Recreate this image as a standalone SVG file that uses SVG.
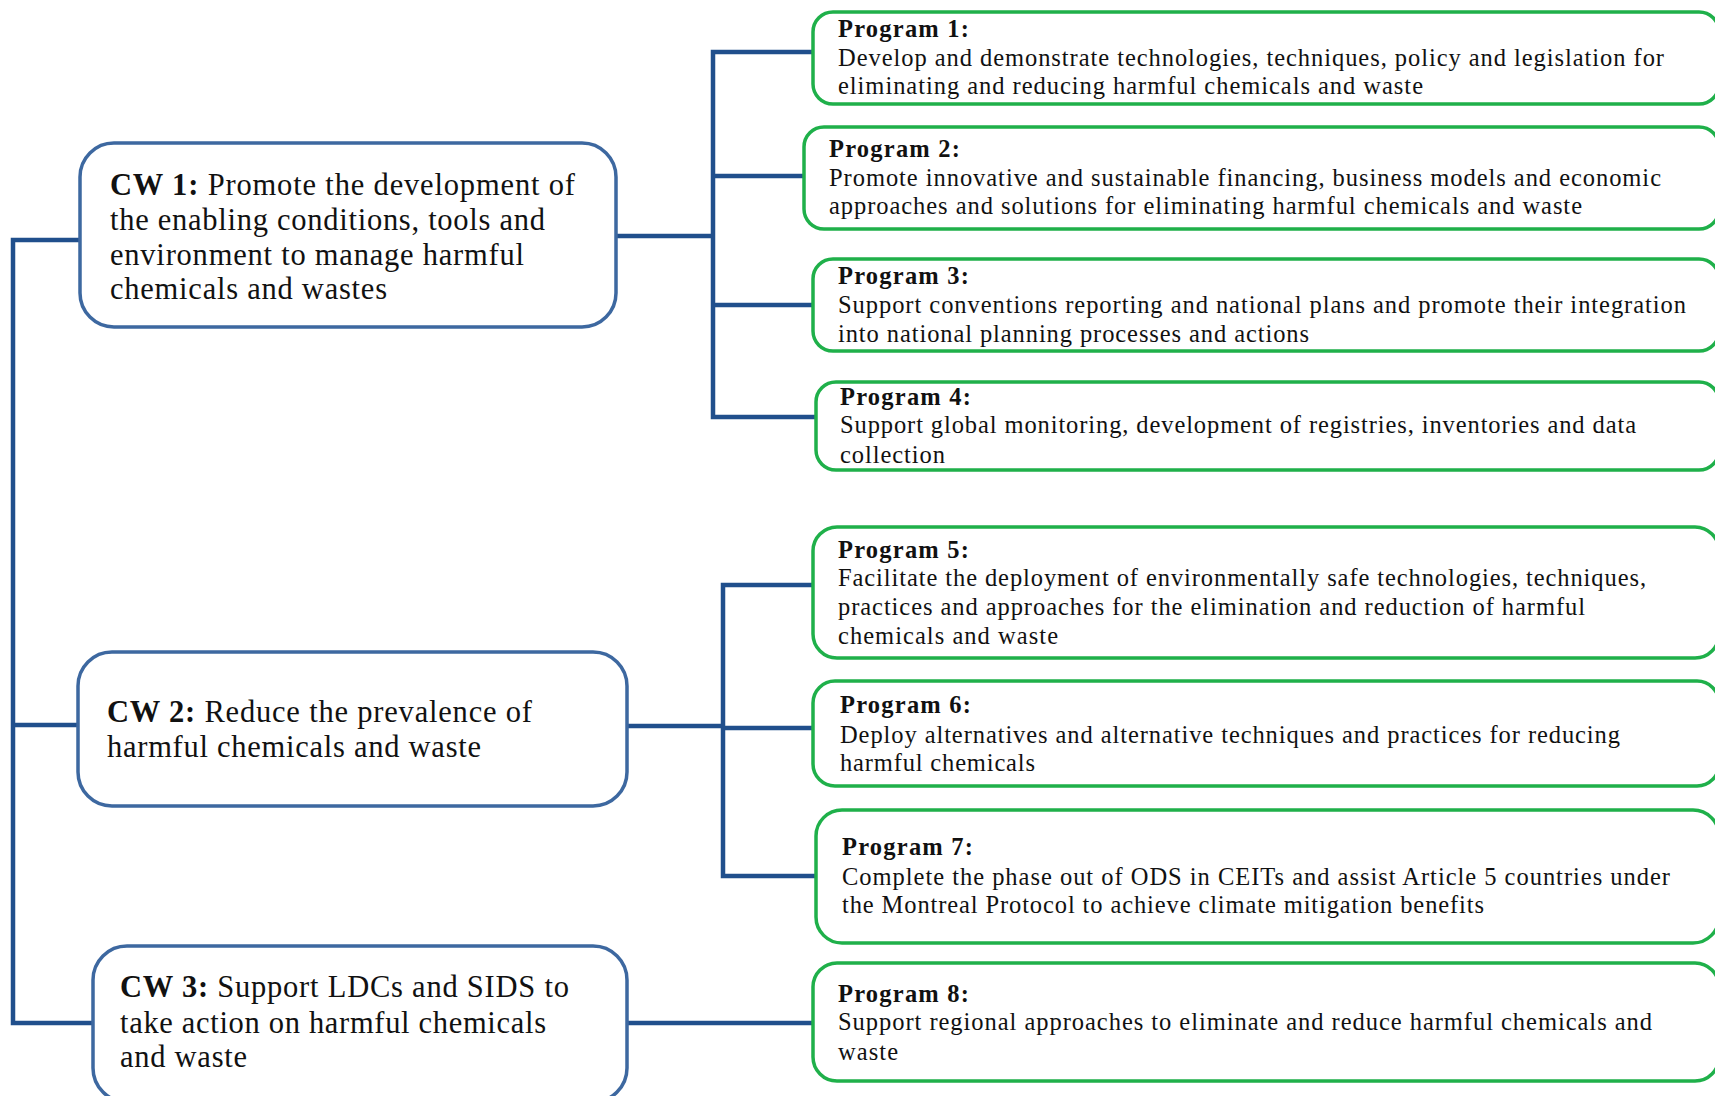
<svg xmlns="http://www.w3.org/2000/svg" width="1715" height="1096" viewBox="0 0 1715 1096">
<style>
.cw{fill:#fff;stroke:#3D68A0;stroke-width:3.5}
.pg{fill:#fff;stroke:#1FB04A;stroke-width:3.5}
.cwt{font-family:"Liberation Serif","Times New Roman",serif;font-size:30.5px;fill:#111}
.pt{font-family:"Liberation Serif","Times New Roman",serif;font-size:24.5px;fill:#111}
.b{font-weight:bold}
.con{fill:none;stroke:#204F8C;stroke-width:4.5}
</style>
<g id="connectors">
<path class="con" d="M80,240 H13 V1023 H93"/>
<path class="con" d="M13,725 H78"/>
<path class="con" d="M616,236 H713"/>
<path class="con" d="M813,52 H713 V417 H816"/>
<path class="con" d="M713,176 H804"/>
<path class="con" d="M713,305 H813"/>
<path class="con" d="M627,726 H723"/>
<path class="con" d="M813,585 H723 V876 H816"/>
<path class="con" d="M723,728 H813"/>
<path class="con" d="M627,1023 H813"/>
</g>
<g id="cw1">
<rect class="cw" x="80" y="143" width="536" height="184" rx="34"/>
<text class="cwt" x="110" y="195" textLength="465" lengthAdjust="spacing"><tspan class="b">CW 1:</tspan> Promote the development of</text>
<text class="cwt" x="110" y="230" textLength="435" lengthAdjust="spacing">the enabling conditions, tools and</text>
<text class="cwt" x="110" y="265" textLength="414" lengthAdjust="spacing">environment to manage harmful</text>
<text class="cwt" x="110" y="299" textLength="277" lengthAdjust="spacing">chemicals and wastes</text>
</g>
<g id="cw2">
<rect class="cw" x="78" y="652" width="549" height="154" rx="34"/>
<text class="cwt" x="107" y="722" textLength="425" lengthAdjust="spacing"><tspan class="b">CW 2:</tspan> Reduce the prevalence of</text>
<text class="cwt" x="107" y="757" textLength="374" lengthAdjust="spacing">harmful chemicals and waste</text>
</g>
<g id="cw3">
<rect class="cw" x="93" y="946" width="534" height="156" rx="34"/>
<text class="cwt" x="120" y="997" textLength="449" lengthAdjust="spacing"><tspan class="b">CW 3:</tspan> Support LDCs and SIDS to</text>
<text class="cwt" x="120" y="1033" textLength="426" lengthAdjust="spacing">take action on harmful chemicals</text>
<text class="cwt" x="120" y="1067" textLength="127" lengthAdjust="spacing">and waste</text>
</g>
<g id="p1">
<rect class="pg" x="813" y="12" width="906" height="92" rx="20"/>
<text class="pt b" x="838" y="37" textLength="131" lengthAdjust="spacing">Program 1:</text>
<text class="pt" x="838" y="66" textLength="826" lengthAdjust="spacing">Develop and demonstrate technologies, techniques, policy and legislation for</text>
<text class="pt" x="838" y="94" textLength="585" lengthAdjust="spacing">eliminating and reducing harmful chemicals and waste</text>
</g>
<g id="p2">
<rect class="pg" x="804" y="127" width="915" height="102" rx="20"/>
<text class="pt b" x="829" y="157" textLength="131" lengthAdjust="spacing">Program 2:</text>
<text class="pt" x="829" y="186" textLength="832" lengthAdjust="spacing">Promote innovative and sustainable financing, business models and economic</text>
<text class="pt" x="829" y="214" textLength="753" lengthAdjust="spacing">approaches and solutions for eliminating harmful chemicals and waste</text>
</g>
<g id="p3">
<rect class="pg" x="813" y="259" width="906" height="92" rx="20"/>
<text class="pt b" x="838" y="284" textLength="131" lengthAdjust="spacing">Program 3:</text>
<text class="pt" x="838" y="313" textLength="848" lengthAdjust="spacing">Support conventions reporting and national plans and promote their integration</text>
<text class="pt" x="838" y="342" textLength="471" lengthAdjust="spacing">into national planning processes and actions</text>
</g>
<g id="p4">
<rect class="pg" x="816" y="382" width="903" height="88" rx="20"/>
<text class="pt b" x="840" y="405" textLength="131" lengthAdjust="spacing">Program 4:</text>
<text class="pt" x="840" y="433" textLength="796" lengthAdjust="spacing">Support global monitoring, development of registries, inventories and data</text>
<text class="pt" x="840" y="463" textLength="105" lengthAdjust="spacing">collection</text>
</g>
<g id="p5">
<rect class="pg" x="813" y="527" width="906" height="131" rx="24"/>
<text class="pt b" x="838" y="558" textLength="131" lengthAdjust="spacing">Program 5:</text>
<text class="pt" x="838" y="586" textLength="808" lengthAdjust="spacing">Facilitate the deployment of environmentally safe technologies, techniques,</text>
<text class="pt" x="838" y="615" textLength="747" lengthAdjust="spacing">practices and approaches for the elimination and reduction of harmful</text>
<text class="pt" x="838" y="644" textLength="220" lengthAdjust="spacing">chemicals and waste</text>
</g>
<g id="p6">
<rect class="pg" x="813" y="681" width="906" height="105" rx="22"/>
<text class="pt b" x="840" y="713" textLength="131" lengthAdjust="spacing">Program 6:</text>
<text class="pt" x="840" y="743" textLength="780" lengthAdjust="spacing">Deploy alternatives and alternative techniques and practices for reducing</text>
<text class="pt" x="840" y="771" textLength="195" lengthAdjust="spacing">harmful chemicals</text>
</g>
<g id="p7">
<rect class="pg" x="816" y="810" width="903" height="133" rx="26"/>
<text class="pt b" x="842" y="855" textLength="131" lengthAdjust="spacing">Program 7:</text>
<text class="pt" x="842" y="885" textLength="828" lengthAdjust="spacing">Complete the phase out of ODS in CEITs and assist Article 5 countries under</text>
<text class="pt" x="842" y="913" textLength="642" lengthAdjust="spacing">the Montreal Protocol to achieve climate mitigation benefits</text>
</g>
<g id="p8">
<rect class="pg" x="813" y="963" width="906" height="118" rx="24"/>
<text class="pt b" x="838" y="1002" textLength="131" lengthAdjust="spacing">Program 8:</text>
<text class="pt" x="838" y="1030" textLength="814" lengthAdjust="spacing">Support regional approaches to eliminate and reduce harmful chemicals and</text>
<text class="pt" x="838" y="1060" textLength="60" lengthAdjust="spacing">waste</text>
</g>
</svg>
